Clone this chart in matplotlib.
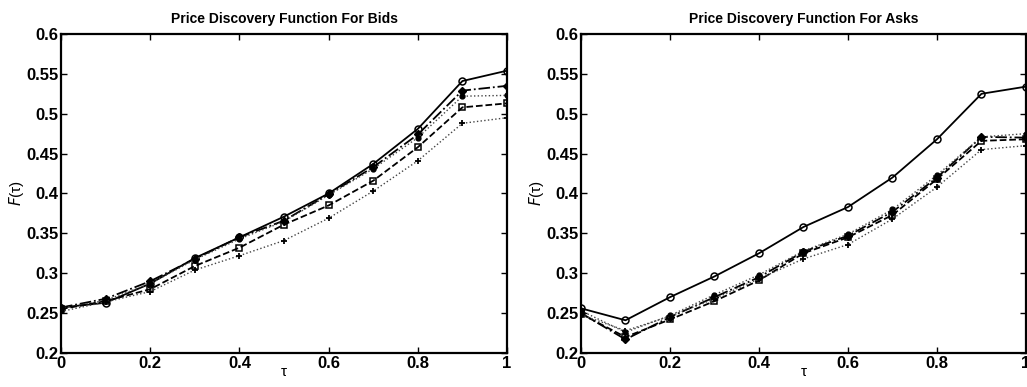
import matplotlib
matplotlib.use('Agg')
import matplotlib.pyplot as plt
from matplotlib.ticker import FuncFormatter

tau = [0, 0.1, 0.2, 0.3, 0.4, 0.5, 0.6, 0.7, 0.8, 0.9, 1.0]

# bids
bid_circle = [0.257, 0.263, 0.287, 0.319, 0.345, 0.371, 0.400, 0.437, 0.481, 0.541, 0.554]
bid_diamond = [0.257, 0.268, 0.290, 0.318, 0.345, 0.366, 0.399, 0.433, 0.474, 0.529, 0.535]
bid_dot = [0.256, 0.266, 0.287, 0.317, 0.343, 0.365, 0.398, 0.431, 0.470, 0.522, 0.523]
bid_square = [0.255, 0.265, 0.280, 0.309, 0.332, 0.361, 0.385, 0.416, 0.458, 0.508, 0.513]
bid_plus = [0.252, 0.264, 0.277, 0.304, 0.322, 0.341, 0.369, 0.403, 0.441, 0.488, 0.495]

# asks
ask_circle = [0.256, 0.241, 0.270, 0.296, 0.325, 0.358, 0.383, 0.420, 0.468, 0.525, 0.534]
ask_diamond = [0.250, 0.217, 0.245, 0.270, 0.295, 0.327, 0.347, 0.377, 0.420, 0.471, 0.470]
ask_dot = [0.253, 0.226, 0.247, 0.273, 0.298, 0.328, 0.349, 0.380, 0.423, 0.471, 0.475]
ask_square = [0.249, 0.220, 0.242, 0.265, 0.291, 0.325, 0.345, 0.373, 0.418, 0.466, 0.468]
ask_plus = [0.248, 0.228, 0.246, 0.268, 0.293, 0.318, 0.336, 0.368, 0.408, 0.455, 0.460]

titles = ['Price Discovery Function For Bids', 'Price Discovery Function For Asks']

plt.rcParams['font.family'] = ['Liberation Sans', 'DejaVu Sans']

fig = plt.figure(figsize=(10.27, 3.87), dpi=100)
ax1 = fig.add_axes([0.0594, 0.0879, 0.4343, 0.8243])
ax2 = fig.add_axes([0.5657, 0.0879, 0.4333, 0.8243])

def fmt(v, pos):
  return '%g' % round(v, 3)

def draw(ax, c, d, dt, s, p, title):
  ax.plot(tau, c, '-', color='black', lw=1.3, marker='o', ms=5, mfc='none', mew=1.1)
  ax.plot(tau, d, '-.', color='black', lw=1.3, marker='D', ms=4, mfc='black')
  ax.plot(tau, dt, ':', color='#444444', lw=1.0, marker='o', ms=3.5, mfc='black', mec='black')
  ax.plot(tau, s, '--', color='black', lw=1.3, marker='s', ms=4.5, mfc='none', mew=1.1)
  ax.plot(tau, p, ':', color='#444444', lw=1.0, marker='+', ms=5, mew=1.3, mec='black')
  ax.set_xlim(0, 1)
  ax.set_ylim(0.2, 0.6)
  ax.set_xticks([0, 0.2, 0.4, 0.6, 0.8, 1])
  ax.set_yticks([0.2, 0.25, 0.3, 0.35, 0.4, 0.45, 0.5, 0.55, 0.6])
  ax.xaxis.set_major_formatter(FuncFormatter(fmt))
  ax.yaxis.set_major_formatter(FuncFormatter(fmt))
  ax.tick_params(direction='in', top=True, right=True, length=4, width=1, labelsize=12, pad=2)
  for lab in ax.get_xticklabels() + ax.get_yticklabels():
    lab.set_fontweight('bold')
  for sp in ax.spines.values():
    sp.set_linewidth(1.6)
  ax.set_title(title, fontsize=10, fontweight='bold', pad=8)
  ax.set_xlabel('τ', fontsize=11, labelpad=-4)
  ax.set_ylabel(r'$F$(τ)', fontsize=11, labelpad=0)

draw(ax1, bid_circle, bid_diamond, bid_dot, bid_square, bid_plus, titles[0])
draw(ax2, ask_circle, ask_diamond, ask_dot, ask_square, ask_plus, titles[1])

plt.savefig('out.png', dpi=100)
plt.close()
